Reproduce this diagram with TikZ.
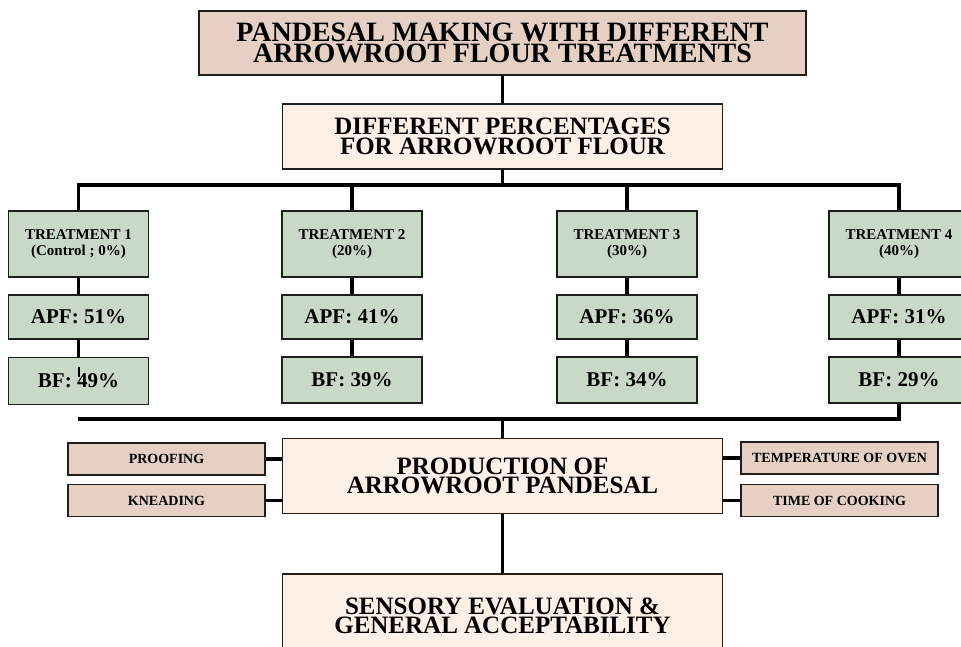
\documentclass[tikz,border=0pt]{standalone}
\usepackage{fontspec}
\setmainfont{Liberation Serif}
\definecolor{brownbox}{HTML}{E5D0C3}
\definecolor{peachbox}{HTML}{FDF0E6}
\definecolor{greenbox}{HTML}{C9D9C7}
\definecolor{edge}{HTML}{1E1E1E}
\begin{document}
\begin{tikzpicture}[x=1pt,y=-1pt,
  box/.style={draw=edge, line width=1.6pt, inner sep=0pt, align=center},
  headbox/.style={box, fill=brownbox, font=\fontsize{28}{21.5}\selectfont\bfseries},
  mainbox/.style={box, fill=peachbox, minimum width=440pt, font=\fontsize{25}{19.5}\selectfont\bfseries},
  treatbox/.style={box, fill=greenbox, minimum width=140pt, minimum height=66pt, font=\fontsize{15}{16}\selectfont\bfseries},
  pctbox/.style={box, fill=greenbox, minimum width=140pt, font=\fontsize{21}{24}\selectfont\bfseries},
  sidebox/.style={box, fill=brownbox, minimum width=197pt, minimum height=32pt, font=\fontsize{14}{16}\selectfont\bfseries},
  conn/.style={line width=3.2pt, black}]
\useasboundingbox (0,0) rectangle (961,646);

% main column
\node[headbox, minimum width=607pt, minimum height=64pt] (title) at (502.5,43)
  {PANDESAL MAKING WITH DIFFERENT\\ARROWROOT FLOUR TREATMENTS};
\node[mainbox, minimum height=65pt] (pct) at (502.5,136.5)
  {DIFFERENT PERCENTAGES\\FOR ARROWROOT FLOUR};
\node[mainbox, minimum height=75pt] (prod) at (502.5,476)
  {PRODUCTION OF\\ARROWROOT PANDESAL};
\node[mainbox, minimum height=84pt] (sens) at (502.5,616)
  {SENSORY EVALUATION \&\\GENERAL ACCEPTABILITY};

% treatments
\node[treatbox] (t1) at (78.5,244) {TREATMENT 1\\(Control ; 0\%)};
\node[treatbox] (t2) at (352,244) {TREATMENT 2\\(20\%)};
\node[treatbox] (t3) at (627,244) {TREATMENT 3\\(30\%)};
\node[treatbox] (t4) at (899,244) {TREATMENT 4\\(40\%)};

\node[pctbox, minimum height=44pt] (a1) at (78.5,317) {APF: 51\%};
\node[pctbox, minimum height=44pt] (a2) at (352,317) {APF: 41\%};
\node[pctbox, minimum height=44pt] (a3) at (627,317) {APF: 36\%};
\node[pctbox, minimum height=44pt] (a4) at (899,317) {APF: 31\%};

\node[pctbox, minimum height=47pt] (b1) at (78.5,381) {BF: 49\%};
\node[pctbox, minimum height=46pt] (b2) at (352,380) {BF: 39\%};
\node[pctbox, minimum height=46pt] (b3) at (627,380) {BF: 34\%};
\node[pctbox, minimum height=46pt] (b4) at (899,380) {BF: 29\%};

% side factors
\node[sidebox] (proof) at (166.5,459) {PROOFING};
\node[sidebox] (knead) at (166.5,500.5) {KNEADING};
\node[sidebox] (temp) at (839.5,458) {TEMPERATURE OF OVEN};
\node[sidebox] (time) at (839.5,500.5) {TIME OF COOKING};

% bus coordinates
\coordinate (bus) at (502.5,185);
\coordinate (lbus) at (502.5,419);
\coordinate (lbusL) at (78,419);

% connectors
\draw[conn] (title) -- (pct);
\draw[conn] (pct) -- (bus);
\draw[conn] (t1.north) |- (bus) -| (t4.north);
\draw[conn] (t2.north) -- (t2.north |- bus);
\draw[conn] (t3.north) -- (t3.north |- bus);
\foreach \i in {1,2,3,4}{
  \draw[conn] (t\i) -- (a\i);
  \draw[conn] (a\i) -- (b\i);
}
\draw[conn] (b4.south) |- (lbus) -- (prod.north);
\draw[conn] (lbus) -- (lbusL);
\draw[conn] (proof.east) -- (prod.west |- proof.east);
\draw[conn] (knead.east) -- (prod.west |- knead.east);
\draw[conn] (temp.west) -- (prod.east |- temp.west);
\draw[conn] (time.west) -- (prod.east |- time.west);
\draw[conn] (prod) -- (sens);

% stray tick in BF 1 box
\draw[line width=1.6pt] (79,367) -- (79,377);
\end{tikzpicture}
\end{document}
